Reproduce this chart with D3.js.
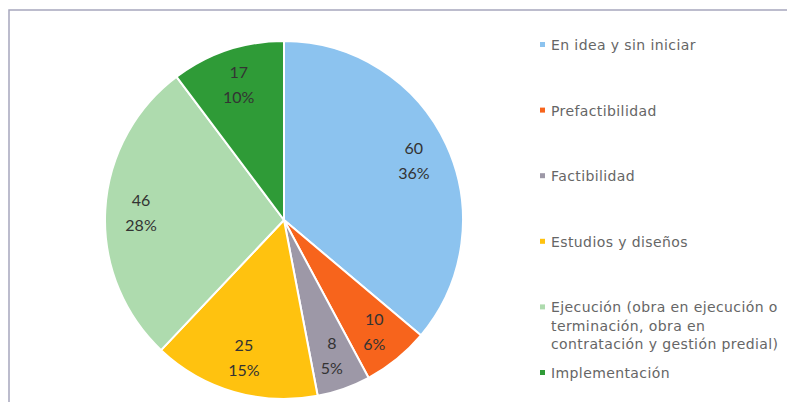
<!DOCTYPE html>
<html>
<head>
<meta charset="utf-8">
<script src="https://cdn.jsdelivr.net/npm/d3@7"></script>
<style>
  body { margin: 0; background: #fff; }
</style>
</head>
<body>
<script>
// data
const categories = [
  'En idea y sin iniciar',
  'Prefactibilidad',
  'Factibilidad',
  'Estudios y diseños',
  'Ejecución (obra en ejecución o\nterminación, obra en\ncontratación y gestión predial)',
  'Implementación'
];
const values = [60, 10, 8, 25, 46, 17];
const colors = ['#8cc3ef', '#f7641c', '#9d98a7', '#ffc20f', '#aedbae', '#2f9b37'];

const width = 787;
const height = 402;
const cx = 284;
const cy = 220;
const radius = 179;

const svg = d3.select('body')
  .append('svg')
  .attr('width', width)
  .attr('height', height);

// frame (only top and left edges show)
svg.append('rect')
  .attr('x', 9)
  .attr('y', 10)
  .attr('width', 800)
  .attr('height', 420)
  .attr('fill', 'none')
  .attr('stroke', '#a7a7bd')
  .attr('stroke-width', 1.5);

const total = d3.sum(values);
const pie = d3.pie().sort(null)(values);
const arc = d3.arc().innerRadius(0).outerRadius(radius);
const labelArc = d3.arc().innerRadius(radius * 0.8).outerRadius(radius * 0.8);

const g = svg.append('g').attr('transform', `translate(${cx},${cy})`);

g.selectAll('path')
  .data(pie)
  .join('path')
  .attr('d', arc)
  .attr('fill', (d, i) => colors[i])
  .attr('stroke', '#fff')
  .attr('stroke-width', 2)
  .attr('stroke-linejoin', 'round');

// value + percent labels
const labels = g.selectAll('text')
  .data(pie)
  .join('text')
  .attr('transform', (d) => `translate(${labelArc.centroid(d)})`)
  .attr('text-anchor', 'middle')
  .attr('font-family', 'Lato, "Open Sans", sans-serif')
  .attr('font-size', 16)
  .attr('fill', '#333');

labels.append('tspan')
  .attr('x', 0)
  .attr('y', -6)
  .text((d) => d.data);
labels.append('tspan')
  .attr('x', 0)
  .attr('y', 19)
  .text((d) => d3.format('.0%')(d.data / total));

// legend
const legend = svg.append('g').attr('transform', 'translate(540,45)');
const item = legend.selectAll('g')
  .data(categories)
  .join('g')
  .attr('transform', (d, i) => `translate(0,${i * 65.6})`);

item.append('rect')
  .attr('x', 0)
  .attr('y', -3)
  .attr('width', 5)
  .attr('height', 5)
  .attr('fill', (d, i) => colors[i]);

item.append('text')
  .attr('font-family', '"DejaVu Sans", sans-serif')
  .attr('font-size', 14)
  .attr('letter-spacing', 0.4)
  .attr('fill', '#666')
  .selectAll('tspan')
  .data((d) => d.split('\n'))
  .join('tspan')
  .attr('x', 11)
  .attr('y', (d, i) => 5 + i * 18.5)
  .text((d) => d);
</script>
</body>
</html>
